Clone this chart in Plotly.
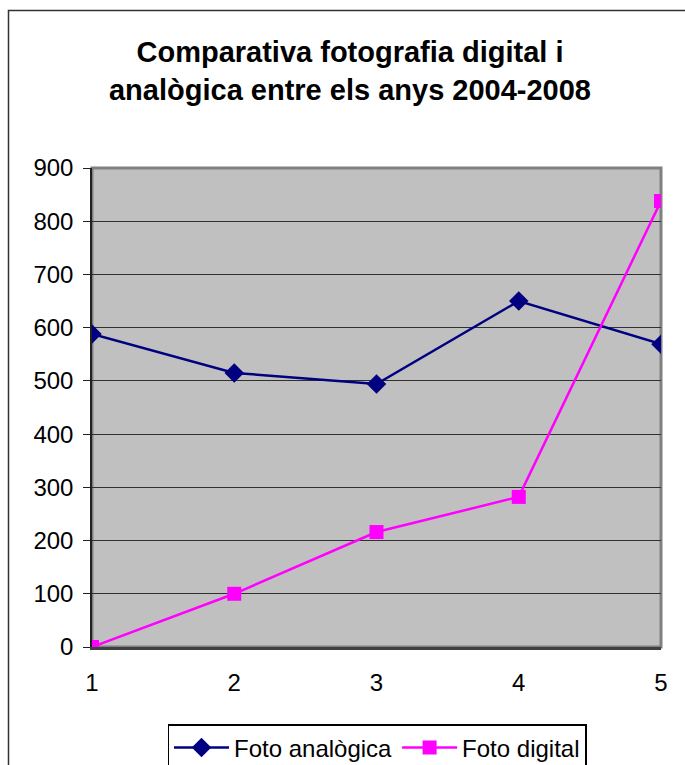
import plotly.graph_objects as go

years = [1, 2, 3, 4, 5]
foto_analogica = [588, 515, 494, 650, 569]
foto_digital = [0, 100, 216, 282, 838]
y_ticks = [0, 100, 200, 300, 400, 500, 600, 700, 800, 900]

W, H = 685, 765
L, R, T, B = 92, 661, 168, 647
pw, ph = R - L, B - T

def px(x):
    return (x - L) / pw

def py(y):
    return (B - y) / ph

fig = go.Figure()
fig.add_trace(go.Scatter(x=years, y=foto_analogica, name="Foto analògica",
                         mode="lines+markers",
                         line=dict(color="#000080", width=2.5),
                         marker=dict(symbol="diamond", size=15, color="#000080")))
fig.add_trace(go.Scatter(x=years, y=foto_digital, name="Foto digital",
                         mode="lines+markers",
                         line=dict(color="#FF00FF", width=2.5),
                         marker=dict(symbol="square", size=14, color="#FF00FF")))

fig.update_layout(
    width=W, height=H,
    margin=dict(l=L, r=W - R, t=T, b=H - B, pad=0),
    paper_bgcolor="white",
    plot_bgcolor="#C0C0C0",
    font=dict(family="Liberation Sans, Arial", size=24, color="black"),
    title=dict(text="<b>Comparativa fotografia digital i<br>analògica entre els anys 2004-2008</b>",
               x=350 / W, xanchor="center", y=1 - 62 / H, yanchor="middle",
               font=dict(size=29, family="Liberation Sans, Arial", color="black")),
    showlegend=True,
    legend=dict(orientation="h", xref="container", x=377 / W, xanchor="center",
                yref="container", y=(H - 724) / H, yanchor="top",
                bordercolor="black", borderwidth=1.5, bgcolor="white",
                font=dict(size=24), itemwidth=55, tracegroupgap=0),
    xaxis=dict(range=[1, 5], tickvals=years, showgrid=False, zeroline=False,
               showline=True, linecolor="#404040", linewidth=2.5, ticks="",
               ticklabelstandoff=12, tickfont=dict(size=24)),
    yaxis=dict(range=[0, 900], tickvals=y_ticks, showgrid=True, gridcolor="#303030",
               gridwidth=1, zeroline=False, showline=True, linecolor="#202020",
               linewidth=1.5, ticks="outside", ticklen=7, tickcolor="#202020",
               ticklabelstandoff=5, tickfont=dict(size=24)),
    shapes=[
        dict(type="rect", xref="paper", yref="paper", x0=0, y0=0, x1=1, y1=1,
             line=dict(color="#808080", width=3), layer="below"),
        dict(type="rect", xref="paper", yref="paper",
             x0=px(8.5), y0=py(790), x1=px(710), y1=py(10.5),
             line=dict(color="#333333", width=1.5)),
    ],
)

fig.write_html("out.html", config={"displayModeBar": False},
               post_script="document.body.style.margin='0';document.body.style.overflow='hidden';")
